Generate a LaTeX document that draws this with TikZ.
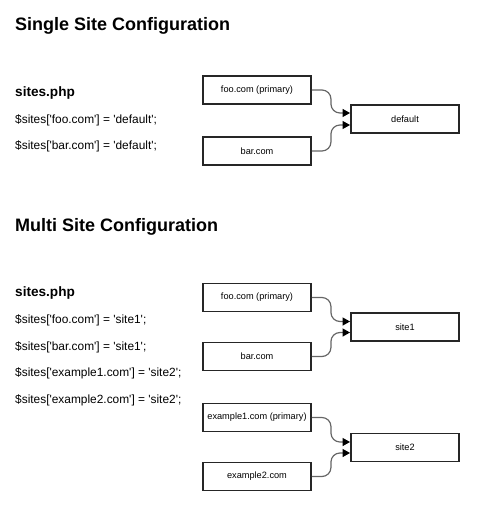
\documentclass[tikz,border=0pt]{standalone}
\usepackage{fontspec}
\setmainfont{Liberation Sans}[Ligatures=TeXOff]
\usetikzlibrary{arrows.meta}
\begin{document}
\begin{tikzpicture}[x=1bp,y=-1bp,
  box/.style={draw=black!85, line width=1.9bp, minimum width=108bp, minimum height=28bp, inner sep=0pt, font=\fontsize{9.2bp}{11bp}\selectfont},
  conn/.style={draw=black!60, line width=1.2bp, rounded corners=9bp, -{Triangle[length=7.5bp,width=8bp,color=black]}},
  title/.style={anchor=base west, inner sep=0pt, font=\fontsize{18bp}{20bp}\selectfont\bfseries},
  file/.style={anchor=base west, inner sep=0pt, font=\fontsize{13.6bp}{16bp}\selectfont\bfseries},
  code/.style={anchor=base west, inner sep=0pt, font=\fontsize{11.9bp}{14bp}\selectfont}]
\useasboundingbox (0,0) rectangle (482,517);
% Single
\node[title] (t1) at (15,30.7) {Single Site Configuration};
\node[file] (f1) at (15,96.7) {sites.php};
\node[code] (c11) at (15,123.3) {\$sites['foo.com'] = 'default';};
\node[code] (c12) at (15,150) {\$sites['bar.com'] = 'default';};
\node[box] (foo1) at (257,90) {foo.com (primary)};
\node[box] (bar1) at (257,151) {bar.com};
\node[box] (def) at (405,119) {default};
\draw[conn] (foo1.east) -- ++(19,0) |- ([yshift=6bp]def.west);
\draw[conn] (bar1.east) -- ++(19,0) |- ([yshift=-6bp]def.west);
% Multi
\node[title] (t2) at (15,231.7) {Multi Site Configuration};
\node[file] (f2) at (15,296.7) {sites.php};
\node[code] (c21) at (15,323.3) {\$sites['foo.com'] = 'site1';};
\node[code] (c22) at (15,350) {\$sites['bar.com'] = 'site1';};
\node[code] (c23) at (15,376.7) {\$sites['example1.com'] = 'site2';};
\node[code] (c24) at (15,403.3) {\$sites['example2.com'] = 'site2';};
\node[box] (foo2) at (257,297.5) {foo.com (primary)};
\node[box] (bar2) at (257,356.5) {bar.com};
\node[box] (site1) at (405,327) {site1};
\node[box] (ex1) at (257,417.5) {example1.com (primary)};
\node[box] (ex2) at (257,476.5) {example2.com};
\node[box] (site2) at (405,447.5) {site2};
\draw[conn] (foo2.east) -- ++(19,0) |- ([yshift=5.5bp]site1.west);
\draw[conn] (bar2.east) -- ++(19,0) |- ([yshift=-5.5bp]site1.west);
\draw[conn] (ex1.east) -- ++(19,0) |- ([yshift=5.5bp]site2.west);
\draw[conn] (ex2.east) -- ++(19,0) |- ([yshift=-5.5bp]site2.west);
\end{tikzpicture}
\end{document}
